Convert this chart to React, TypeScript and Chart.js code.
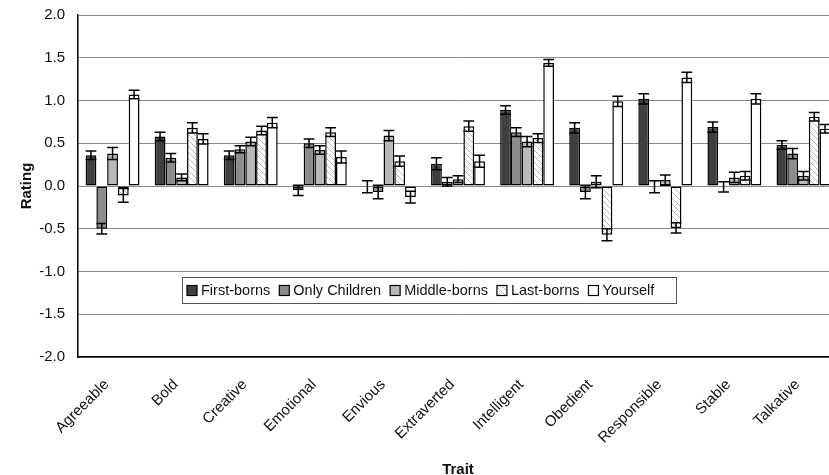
import React, { useEffect, useRef } from 'react';
import { Chart, registerables } from 'chart.js';

Chart.register(...registerables);

const categories = ['Agreeable', 'Bold', 'Creative', 'Emotional', 'Envious', 'Extraverted', 'Intelligent', 'Obedient', 'Responsible', 'Stable', 'Talkative'];
const seriesNames = ['First-borns', 'Only Children', 'Middle-borns', 'Last-borns', 'Yourself'];

const firstBorns = [0.36, 0.58, 0.36, -0.05, -0.01, 0.26, 0.89, 0.68, 1.02, 0.69, 0.48];
const onlyChildren = [-0.50, 0.33, 0.43, 0.50, -0.07, 0.05, 0.63, -0.07, -0.01, -0.01, 0.38];
const middleBorns = [0.38, 0.10, 0.52, 0.42, 0.59, 0.08, 0.52, 0.05, 0.07, 0.10, 0.12];
const lastBorns = [-0.11, 0.68, 0.65, 0.63, 0.29, 0.70, 0.56, -0.57, -0.49, 0.12, 0.81];
const yourself = [1.07, 0.55, 0.74, 0.34, -0.13, 0.29, 1.44, 0.99, 1.27, 1.02, 0.67];

const firstBornsErr = [0.05, 0.05, 0.05, 0.06, 0.07, 0.07, 0.05, 0.06, 0.06, 0.06, 0.05];
const onlyChildrenErr = [0.06, 0.05, 0.04, 0.05, 0.08, 0.05, 0.05, 0.08, 0.07, 0.06, 0.06];
const middleBornsErr = [0.07, 0.04, 0.05, 0.05, 0.06, 0.04, 0.06, 0.07, 0.06, 0.06, 0.05];
const lastBornsErr = [0.08, 0.06, 0.05, 0.05, 0.06, 0.06, 0.05, 0.07, 0.06, 0.05, 0.05];
const yourselfErr = [0.05, 0.06, 0.06, 0.07, 0.07, 0.07, 0.04, 0.06, 0.06, 0.06, 0.05];

const yMin = -2;
const yMax = 2;
const yStep = 0.5;

const FONT = "Arial, 'Liberation Sans', Helvetica, sans-serif";

function makeHatch(): CanvasPattern | string {
  const s = 6;
  const c = document.createElement('canvas');
  c.width = s;
  c.height = s;
  const g = c.getContext('2d');
  if (!g) return '#ffffff';
  g.fillStyle = '#ffffff';
  g.fillRect(0, 0, s, s);
  g.strokeStyle = '#b8b8b8';
  g.lineWidth = 1;
  g.beginPath();
  g.moveTo(0, 0);
  g.lineTo(s, s);
  g.moveTo(-1, s - 1);
  g.lineTo(1, s + 1);
  g.moveTo(s - 1, -1);
  g.lineTo(s + 1, 1);
  g.stroke();
  const p = g.createPattern(c, 'repeat');
  return p || '#ffffff';
}

export default function App() {
  const ref = useRef<HTMLCanvasElement | null>(null);

  useEffect(() => {
    const canvas = ref.current;
    if (!canvas) return;
    const hatch = makeHatch();
    const values = [firstBorns, onlyChildren, middleBorns, lastBorns, yourself];
    const errors = [firstBornsErr, onlyChildrenErr, middleBornsErr, lastBornsErr, yourselfErr];
    const fills: (string | CanvasPattern)[] = ['#3f3f3f', '#8c8c8c', '#b9b9b9', hatch, '#ffffff'];
    const swatchFills = ['#3f3f3f', '#8c8c8c', '#b9b9b9', '#ffffff', '#ffffff'];

    const errorBarPlugin = {
      id: 'errorBars',
      afterDatasetsDraw(chart: any) {
        const ctx = chart.ctx;
        const yScale = chart.scales.y;
        ctx.save();
        ctx.strokeStyle = '#000';
        ctx.lineWidth = 1.5;
        chart.data.datasets.forEach((ds: any, di: number) => {
          const meta = chart.getDatasetMeta(di);
          meta.data.forEach((bar: any, i: number) => {
            const v = values[di][i];
            const e = errors[di][i];
            const x = bar.x;
            const hw = bar.width / 2;
            const yt = yScale.getPixelForValue(v + e);
            const yb = yScale.getPixelForValue(v - e);
            ctx.beginPath();
            ctx.moveTo(x, yt);
            ctx.lineTo(x, yb);
            ctx.moveTo(x - hw, yt);
            ctx.lineTo(x + hw, yt);
            ctx.moveTo(x - hw, yb);
            ctx.lineTo(x + hw, yb);
            ctx.stroke();
          });
        });
        ctx.restore();
      },
    };

    const legendPlugin = {
      id: 'innerLegend',
      afterDraw(chart: any) {
        const ctx = chart.ctx;
        ctx.save();
        const left = 182;
        const top = 277;
        const w = 494;
        const h = 26;
        ctx.fillStyle = '#ffffff';
        ctx.fillRect(left, top, w, h);
        ctx.strokeStyle = '#555';
        ctx.lineWidth = 1;
        ctx.strokeRect(left + 0.5, top + 0.5, w, h);
        ctx.font = `14.5px ${FONT}`;
        ctx.textBaseline = 'middle';
        ctx.textAlign = 'left';
        const cy = top + h / 2 + 0.5;
        let x = left + 5;
        seriesNames.forEach((name, i) => {
          ctx.fillStyle = swatchFills[i];
          ctx.fillRect(x, cy - 5, 10, 10);
          if (i === 3) {
            ctx.fillStyle = hatch as any;
            ctx.fillRect(x, cy - 5, 10, 10);
          }
          ctx.strokeStyle = '#000';
          ctx.lineWidth = 1.2;
          ctx.strokeRect(x, cy - 5, 10, 10);
          ctx.fillStyle = '#111';
          ctx.fillText(name, x + 14, cy);
          x += 14 + ctx.measureText(name).width + 9;
        });
        ctx.restore();
      },
    };

    const chart = new Chart(canvas, {
      type: 'bar',
      data: {
        labels: categories,
        datasets: seriesNames.map((name, i) => ({
          label: name,
          data: values[i],
          backgroundColor: fills[i] as any,
          borderColor: '#000',
          borderWidth: 1.5,
          borderSkipped: false,
          categoryPercentage: 0.78,
          barPercentage: 1.0,
        })),
      },
      options: {
        responsive: false,
        animation: false,
        layout: { padding: { top: 15, right: 2, left: 0, bottom: 0 } },
        plugins: {
          legend: { display: false },
          tooltip: { enabled: false },
        },
        scales: {
          x: {
            grid: { display: false, drawTicks: false },
            border: { display: true, color: '#000', width: 1.5 },
            ticks: {
              minRotation: 45,
              maxRotation: 45,
              padding: 13,
              color: '#111',
              font: { family: FONT, size: 15 },
              callback: (v: any, i: number) => categories[i] + '  ',
            },
            title: {
              display: true,
              text: 'Trait',
              color: '#111',
              font: { family: FONT, size: 15, weight: 'bold' },
              padding: { top: 0, bottom: 0 },
            },
            afterFit: (scale: any) => {
              scale.height = 122;
              scale.paddingLeft = 0;
              scale.paddingRight = 0;
            },
          },
          y: {
            min: yMin,
            max: yMax,
            grid: { color: '#8a8a8a', lineWidth: 1, drawTicks: false },
            border: { display: true, color: '#000', width: 1.5 },
            ticks: {
              stepSize: yStep,
              padding: 13,
              color: '#111',
              font: { family: FONT, size: 15 },
              callback: (v: any) => Number(v).toFixed(1),
            },
            title: {
              display: true,
              text: 'Rating',
              color: '#111',
              font: { family: FONT, size: 15, weight: 'bold' },
              padding: { top: 18, bottom: 0 },
            },
            afterFit: (scale: any) => {
              scale.width = 78;
              scale.paddingTop = 0;
              scale.paddingBottom = 0;
            },
          },
        },
      },
      plugins: [errorBarPlugin, legendPlugin],
    });

    return () => {
      chart.destroy();
    };
  }, []);

  return (
    <div
      style={{
        position: 'fixed',
        left: 0,
        top: 0,
        width: 829,
        height: 475,
        overflow: 'hidden',
        background: '#fff',
      }}
    >
      <canvas ref={ref} width={840} height={479} style={{ display: 'block' }} />
    </div>
  );
}
